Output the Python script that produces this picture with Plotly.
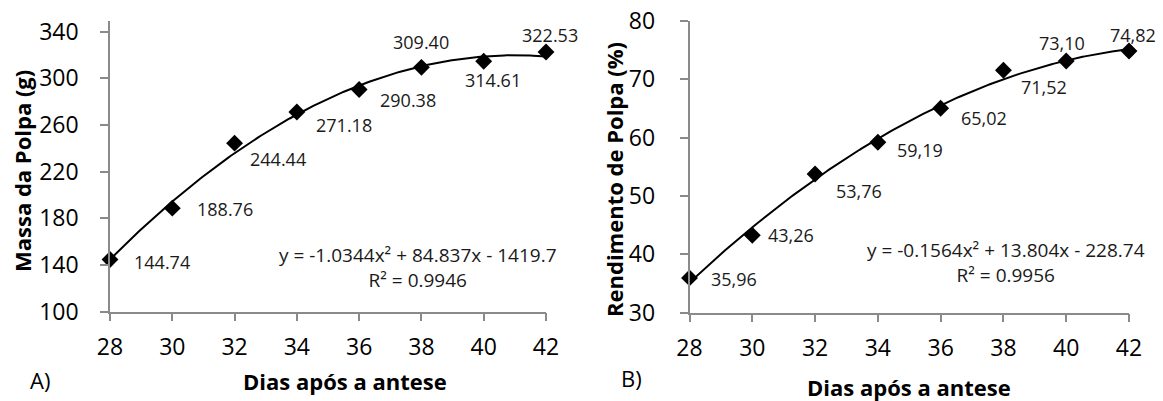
import numpy as np
import plotly.graph_objects as go

# Days after anthesis
dias = [28, 30, 32, 34, 36, 38, 40, 42]

# A) pulp mass (g) and B) pulp yield (%)
massa = [144.74, 188.76, 244.44, 271.18, 290.38, 309.40, 314.61, 322.53]
rendimento = [35.96, 43.26, 53.76, 59.19, 65.02, 71.52, 73.10, 74.82]

massa_labels = ["144.74", "188.76", "244.44", "271.18", "290.38", "309.40", "314.61", "322.53"]
rend_labels = ["35,96", "43,26", "53,76", "59,19", "65,02", "71,52", "73,10", "74,82"]

# quadratic trend coefficients (a, b, c) as printed on each panel
coef_massa = [-1.0344, 84.837, -1419.7]
coef_rend = [-0.1564, 13.804, -228.74]
eq_massa = "y = -1.0344x² + 84.837x - 1419.7<br>R² = 0.9946"
eq_rend = "y = -0.1564x² + 13.804x - 228.74<br>R² = 0.9956"

yticks_massa = [100, 140, 180, 220, 260, 300, 340]
yticks_rend = [30, 40, 50, 60, 70, 80]

W, H = 1163, 401
FONT = "Open Sans"
AXIS_GREY = "#8a8a8a"


def px_x(p):
    return p / W


def px_y(p):
    return 1 - p / H


fig = go.Figure()

xs = np.linspace(dias[0], dias[-1], 200)
for coef, vals, xa, ya in [
    (coef_massa, massa, "x", "y"),
    (coef_rend, rendimento, "x2", "y2"),
]:
    a, b, c = coef
    fig.add_trace(go.Scatter(
        x=xs, y=a * xs**2 + b * xs + c, mode="lines",
        line=dict(color="black", width=2), xaxis=xa, yaxis=ya,
        hoverinfo="skip", showlegend=False,
    ))
    fig.add_trace(go.Scatter(
        x=dias, y=vals, mode="markers",
        marker=dict(symbol="diamond", size=13, color="black"),
        xaxis=xa, yaxis=ya, cliponaxis=False, showlegend=False,
    ))

# label offsets (right shift, downward shift, anchor) per point
off_massa = [(22, 2, "left"), (23, 1, "left"), (13, 16, "left"), (17, 13, "left"),
             (19, 10, "left"), (0, -25, "center"), (9, 19, "center"), (4, -17, "center")]
off_rend = [(19, 1, "left"), (14, 0, "left"), (19, 17, "left"), (17, 8, "left"),
            (18, 10, "left"), (16, 17, "left"), (-4, -18, "center"), (4, -16, "center")]

annotations = []
for vals, labels, offs, xr, yr in [
    (massa, massa_labels, off_massa, "x", "y"),
    (rendimento, rend_labels, off_rend, "x2", "y2"),
]:
    for d, v, t, (dx, dy, anc) in zip(dias, vals, labels, offs):
        annotations.append(dict(
            x=d, y=v, xref=xr, yref=yr, text=t, showarrow=False,
            xanchor=anc, yanchor="middle", xshift=dx, yshift=-dy,
            font=dict(family=FONT, size=18, color="#1a1a1a"),
        ))

# equations
for txt, cx, cy in [(eq_massa, 418, 267), (eq_rend, 1006, 262)]:
    annotations.append(dict(
        x=px_x(cx), y=px_y(cy), xref="paper", yref="paper", text=txt,
        showarrow=False, xanchor="center", yanchor="middle", align="center",
        font=dict(family=FONT, size=19, color="#1a1a1a"),
    ))

# axis titles and panel letters
title_font = dict(family=FONT, size=22, color="black", weight="bold")
for txt, cx, cy, ang in [
    ("Massa da Polpa (g)", 22, 171, -90),
    ("Rendimento de Polpa (%)", 614, 180, -90),
    ("Dias após a antese", 345, 381, 0),
    ("Dias após a antese", 909, 387, 0),
]:
    annotations.append(dict(
        x=px_x(cx), y=px_y(cy), xref="paper", yref="paper", text=txt,
        showarrow=False, xanchor="center", yanchor="middle", textangle=ang,
        font=title_font,
    ))
for txt, cx, cy in [("A)", 40, 380), ("B)", 631, 378)]:
    annotations.append(dict(
        x=px_x(cx), y=px_y(cy), xref="paper", yref="paper", text=txt,
        showarrow=False, xanchor="center", yanchor="middle",
        font=dict(family=FONT, size=22, color="black"),
    ))

axis_common = dict(
    showline=True, linecolor=AXIS_GREY, linewidth=1.5, showgrid=False,
    zeroline=False, ticks="outside", ticklen=8, tickwidth=1.5, automargin=False,
    tickcolor=AXIS_GREY, tickfont=dict(family=FONT, size=23, color="black"),
)

fig.update_layout(
    width=W, height=H, margin=dict(l=0, r=0, t=0, b=0),
    paper_bgcolor="white", plot_bgcolor="white",
    xaxis=dict(domain=[px_x(110), px_x(546)], range=[28, 42], tickvals=dias,
               anchor="y", ticklabelstandoff=6, **axis_common),
    yaxis=dict(domain=[px_y(311.7), px_y(20.7)], range=[100, 349.4],
               tickvals=yticks_massa, anchor="x", ticklabelstandoff=17, **axis_common),
    xaxis2=dict(domain=[px_x(689.5), px_x(1129)], range=[28, 42], tickvals=dias,
                anchor="y2", ticklabelstandoff=6, **axis_common),
    yaxis2=dict(domain=[px_y(312.7), px_y(20.7)], range=[30, 80],
                tickvals=yticks_rend, anchor="x2", ticklabelstandoff=20, **axis_common),
    annotations=annotations,
)

fig.write_html("out.html")
